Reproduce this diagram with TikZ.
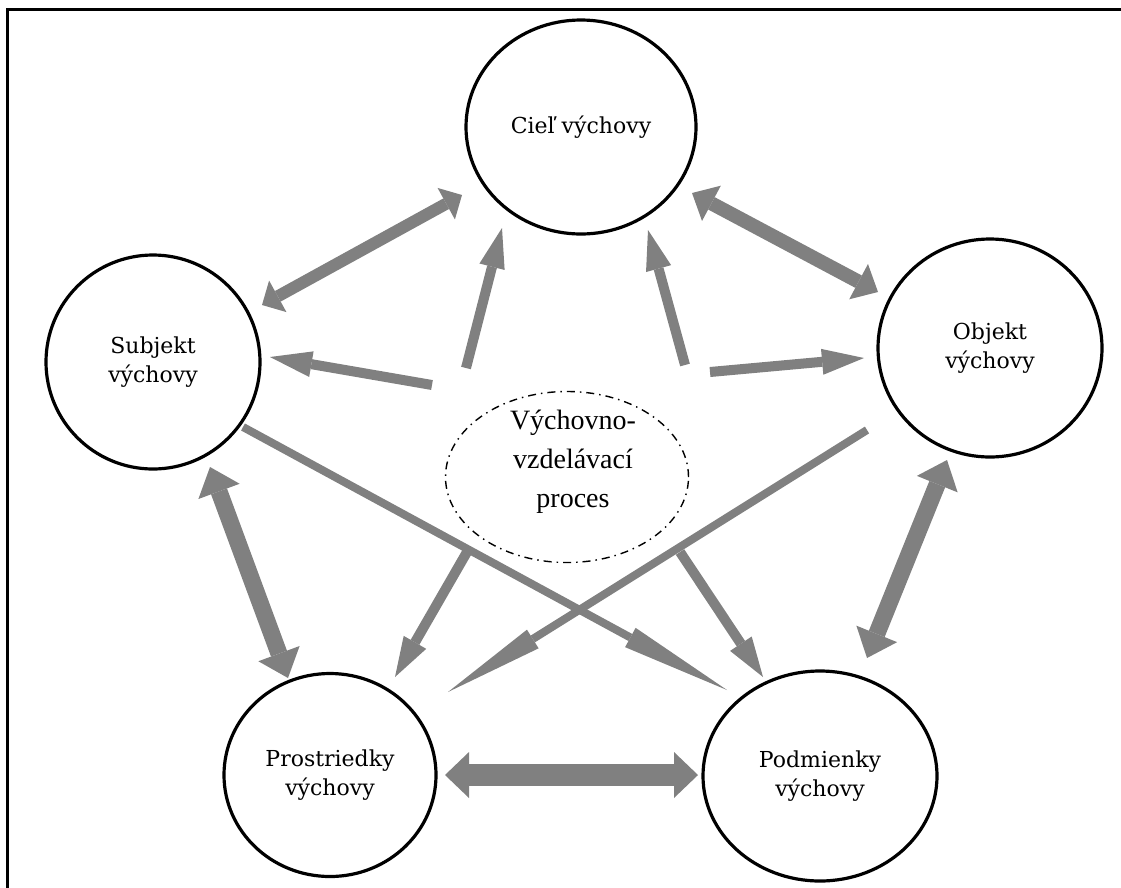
\documentclass[tikz,border=0pt]{standalone}
\usepackage{fontspec}
\setmainfont{Liberation Serif}
\newfontfamily\lblfont{DejaVu Serif}
\usetikzlibrary{shapes.geometric,arrows.meta}
\definecolor{agray}{HTML}{808080}
\begin{document}
\begin{tikzpicture}[x=1pt,y=-1pt,
  circ/.style={ellipse, draw=black, line width=3.2pt, fill=white, inner sep=0pt,
    font=\lblfont\fontsize{22}{29}\selectfont, align=center},
  procbox/.style={ellipse, draw=black, line width=1.4pt,
    dash pattern=on 8pt off 5pt on 1.5pt off 5pt, inner sep=0pt},
  garrow/.style={agray, line cap=butt, line join=miter},
  dbl/.style n args={3}{garrow, line width=#1pt,
    arrows={Triangle[width=#2pt,length=#3pt,line width=0pt]-Triangle[width=#2pt,length=#3pt,line width=0pt]}},
  sgl/.style n args={3}{garrow, line width=#1pt,
    arrows={-Triangle[width=#2pt,length=#3pt,line width=0pt]}},
  frameline/.style={line width=3pt, black}
]
\useasboundingbox (0,0) rectangle (1121,887);

% frame (top and left edges)
\coordinate (fr1) at (1125,9);
\coordinate (fr2) at (7,9);
\coordinate (fr3) at (7,890);
\draw[frameline] (fr1) -- (fr2) -- (fr3);

% arrow end points
\coordinate (a1s) at (262,305);  \coordinate (a1e) at (462,195);
\coordinate (a2s) at (692,193);  \coordinate (a2e) at (878,292);
\coordinate (a3s) at (210,467);  \coordinate (a3e) at (288,678);
\coordinate (a4s) at (947,460);  \coordinate (a4e) at (867,658);
\coordinate (a5s) at (445,775);  \coordinate (a5e) at (698,775);
\coordinate (a6s) at (432,385);  \coordinate (a6e) at (270,357);
\coordinate (a7s) at (466,368);  \coordinate (a7e) at (502,228);
\coordinate (a8s) at (685,365);  \coordinate (a8e) at (648,230);
\coordinate (a9s) at (710,372);  \coordinate (a9e) at (864,358);
\coordinate (a10s) at (467,552); \coordinate (a10e) at (395,677);
\coordinate (a11s) at (680,552); \coordinate (a11e) at (763,677);
\coordinate (a12s) at (243,427); \coordinate (a12e) at (727,690);
\coordinate (a13s) at (867,430); \coordinate (a13e) at (448,692);

% double arrows between the outer circles
\draw[dbl={12}{36}{18}] (a1s) -- (a1e);
\draw[dbl={14}{40}{22}] (a2s) -- (a2e);
\draw[dbl={17}{44}{26}] (a3s) -- (a3e);
\draw[dbl={17}{44}{26}] (a4s) -- (a4e);
\draw[dbl={22}{46}{24}] (a5s) -- (a5e);

% single arrows from the centre
\draw[sgl={10}{26}{42}] (a6s) -- (a6e);
\draw[sgl={10}{26}{40}] (a7s) -- (a7e);
\draw[sgl={10}{26}{40}] (a8s) -- (a8e);
\draw[sgl={10}{26}{42}] (a9s) -- (a9e);
\draw[sgl={10}{26}{40}] (a10s) -- (a10e);
\draw[sgl={10}{26}{40}] (a11s) -- (a11e);

% long crossing arrows
\draw[sgl={8}{22}{110}] (a12s) -- (a12e);
\draw[sgl={8}{22}{100}] (a13s) -- (a13e);

% circles
\node[circ, minimum width=230pt, minimum height=214pt] (ciel) at (581,127) {Cieľ výchovy};
\node[circ, minimum width=214pt, minimum height=214pt] (subj) at (153,362) {Subjekt\\výchovy};
\node[circ, minimum width=224pt, minimum height=218pt] (obj) at (990,348) {Objekt\\výchovy};
\node[circ, minimum width=212pt, minimum height=203pt] (prost) at (330,775) {Prostriedky\\výchovy};
\node[circ, minimum width=234pt, minimum height=210pt] (podm) at (820,776) {Podmienky\\výchovy};

% central process
\node[procbox, minimum width=243pt, minimum height=171pt] (proc) at (567,477) {};
\node[font=\fontsize{28}{39}\selectfont, align=center, inner sep=0pt] (proctext) at (573,462) {Výchovno-\\vzdelávací\\proces};
\end{tikzpicture}
\end{document}
